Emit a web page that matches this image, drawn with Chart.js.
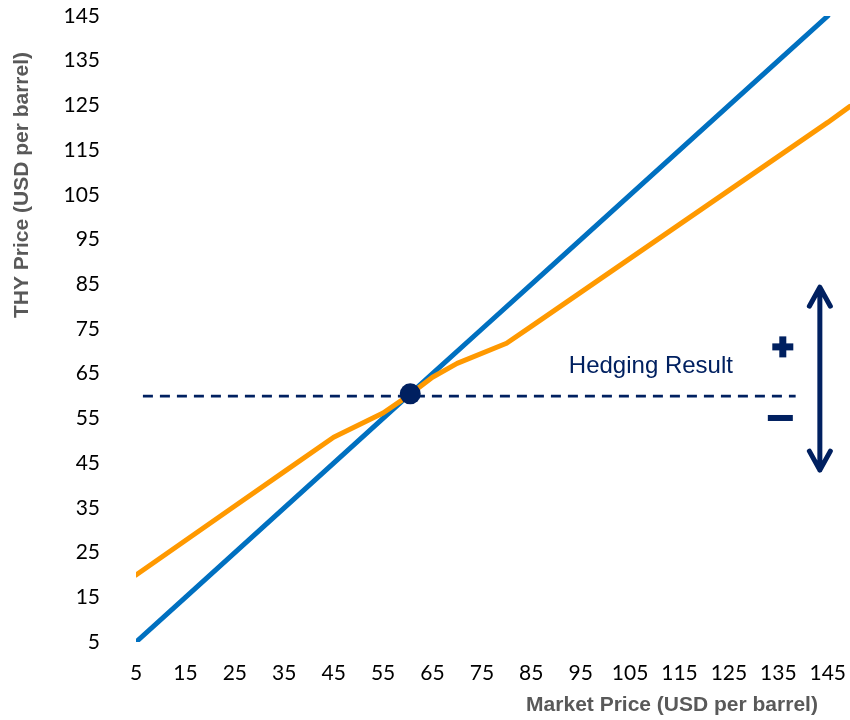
<!DOCTYPE html>
<html>
<head>
<meta charset="utf-8">
<script src="https://cdn.jsdelivr.net/npm/chart.js@4.4.1/dist/chart.umd.min.js"></script>
<style>
  html, body { margin: 0; padding: 0; background: #fff; }
</style>
</head>
<body>
<canvas id="hedgeChart" width="850" height="720"></canvas>
<script>
// tick labels
const xTicks = [5, 15, 25, 35, 45, 55, 65, 75, 85, 95, 105, 115, 125, 135, 145];
const yTicks = [5, 15, 25, 35, 45, 55, 65, 75, 85, 95, 105, 115, 125, 135, 145];

// unhedged: THY pays the market price
const marketX = [5, 15, 25, 35, 45, 55, 65, 75, 85, 95, 105, 115, 125, 135, 145];
const marketY = [5, 15, 25, 35, 45, 55, 65, 75, 85, 95, 105, 115, 125, 135, 145];

// hedged price paid by THY
const hedgedX = [5, 15, 25, 35, 45, 55, 60, 65, 70, 80, 85, 95, 105, 115, 125, 135, 145, 149.5];
const hedgedY = [20, 27.7, 35.4, 43.1, 50.8, 56.2, 60, 64.2, 67.3, 71.8, 75.6, 83.2, 90.8, 98.4, 106, 113.6, 121.2, 124.8];

// hedge level (dashed) and break-even point
const hedgeLineX = [6.4, 138.5];
const hedgeLevel = 60;
const breakEvenX = [60.5];
const breakEvenY = [60.5];

const NAVY = '#002060';

const toPoints = (xs, ys) => xs.map((v, i) => ({ x: v, y: ys[i] }));

const annotations = {
  id: 'annotations',
  afterDatasetsDraw(chart) {
    const { ctx, scales: { x, y } } = chart;
    ctx.save();
    ctx.fillStyle = NAVY;
    ctx.strokeStyle = NAVY;

    // label
    ctx.font = '24px "Liberation Sans", Arial, sans-serif';
    ctx.textAlign = 'center';
    ctx.textBaseline = 'alphabetic';
    ctx.fillText('Hedging Result', x.getPixelForValue(109.2), y.getPixelForValue(65.2));

    // plus / minus
    const px = x.getPixelForValue(135.9), py = y.getPixelForValue(71);
    ctx.fillRect(px - 10.5, py - 3.5, 21, 7);
    ctx.fillRect(px - 3.5, py - 10.5, 7, 21);
    const mx = x.getPixelForValue(135.4), my = y.getPixelForValue(55.1);
    ctx.fillRect(mx - 12.5, my - 3, 25, 6);

    // double arrow
    const ax = x.getPixelForValue(143.4);
    const top = y.getPixelForValue(84.8), bot = y.getPixelForValue(43.0);
    ctx.lineWidth = 5;
    ctx.lineCap = 'round';
    ctx.lineJoin = 'round';
    ctx.beginPath();
    ctx.moveTo(ax, top + 2);
    ctx.lineTo(ax, bot - 2);
    ctx.moveTo(ax - 10.5, top + 21);
    ctx.lineTo(ax, top + 2);
    ctx.lineTo(ax + 10.5, top + 21);
    ctx.moveTo(ax - 10.5, bot - 21);
    ctx.lineTo(ax, bot - 2);
    ctx.lineTo(ax + 10.5, bot - 21);
    ctx.stroke();
    ctx.restore();
  },
  afterDraw(chart) {
    const { ctx } = chart;
    ctx.save();
    ctx.fillStyle = '#595959';
    ctx.font = 'bold 21px "Liberation Sans", Arial, sans-serif';
    ctx.textAlign = 'center';
    ctx.textBaseline = 'middle';
    ctx.fillText('Market Price (USD per barrel)', 672, 705);
    ctx.translate(22, 185);
    ctx.rotate(-Math.PI / 2);
    ctx.fillText('THY Price (USD per barrel)', 0, 0);
    ctx.restore();
  }
};

const tickFont = { family: 'Lato, "Open Sans", sans-serif', size: 21 };

// no extra label padding around the plot, the layout padding sets the area
const noLabelPadding = scale => {
  scale.paddingTop = 0;
  scale.paddingBottom = 0;
  scale.paddingLeft = 0;
  scale.paddingRight = 0;
};

new Chart(document.getElementById('hedgeChart'), {
  type: 'line',
  data: {
    datasets: [
      {
        label: 'Break-even',
        data: toPoints(breakEvenX, breakEvenY),
        showLine: false,
        pointRadius: 10.5,
        pointBackgroundColor: NAVY,
        pointBorderWidth: 0
      },
      {
        label: 'THY hedged price',
        data: toPoints(hedgedX, hedgedY),
        borderColor: '#FF9900',
        borderWidth: 5,
        borderCapStyle: 'round',
        borderJoinStyle: 'round',
        pointRadius: 0,
        tension: 0
      },
      {
        label: 'Market price',
        data: toPoints(marketX, marketY),
        borderColor: '#0070C0',
        borderWidth: 5,
        borderCapStyle: 'round',
        pointRadius: 0,
        tension: 0
      },
      {
        label: 'Hedge level',
        data: toPoints(hedgeLineX, hedgeLineX.map(() => hedgeLevel)),
        borderColor: NAVY,
        borderWidth: 2.8,
        borderDash: [10, 7],
        pointRadius: 0
      }
    ]
  },
  options: {
    responsive: false,
    animation: false,
    layout: { autoPadding: false, padding: { top: 16, right: 0, left: 0, bottom: 0 } },
    plugins: {
      legend: { display: false },
      tooltip: { enabled: false }
    },
    scales: {
      x: {
        type: 'linear',
        min: 5,
        max: 149.5,
        grid: { display: false, drawTicks: false },
        border: { display: false },
        afterBuildTicks: scale => { scale.ticks = xTicks.map(v => ({ value: v })); },
        afterFit: scale => { scale.height = 78; noLabelPadding(scale); },
        ticks: { color: '#000', font: tickFont, padding: 19, maxRotation: 0, autoSkip: false }
      },
      y: {
        type: 'linear',
        min: 5,
        max: 145,
        grid: { display: false, drawTicks: false },
        border: { display: false },
        afterBuildTicks: scale => { scale.ticks = yTicks.map(v => ({ value: v })); },
        afterFit: scale => { scale.width = 136; noLabelPadding(scale); },
        ticks: { color: '#000', font: tickFont, padding: 36, autoSkip: false }
      }
    }
  },
  plugins: [annotations]
});
</script>
</body>
</html>
